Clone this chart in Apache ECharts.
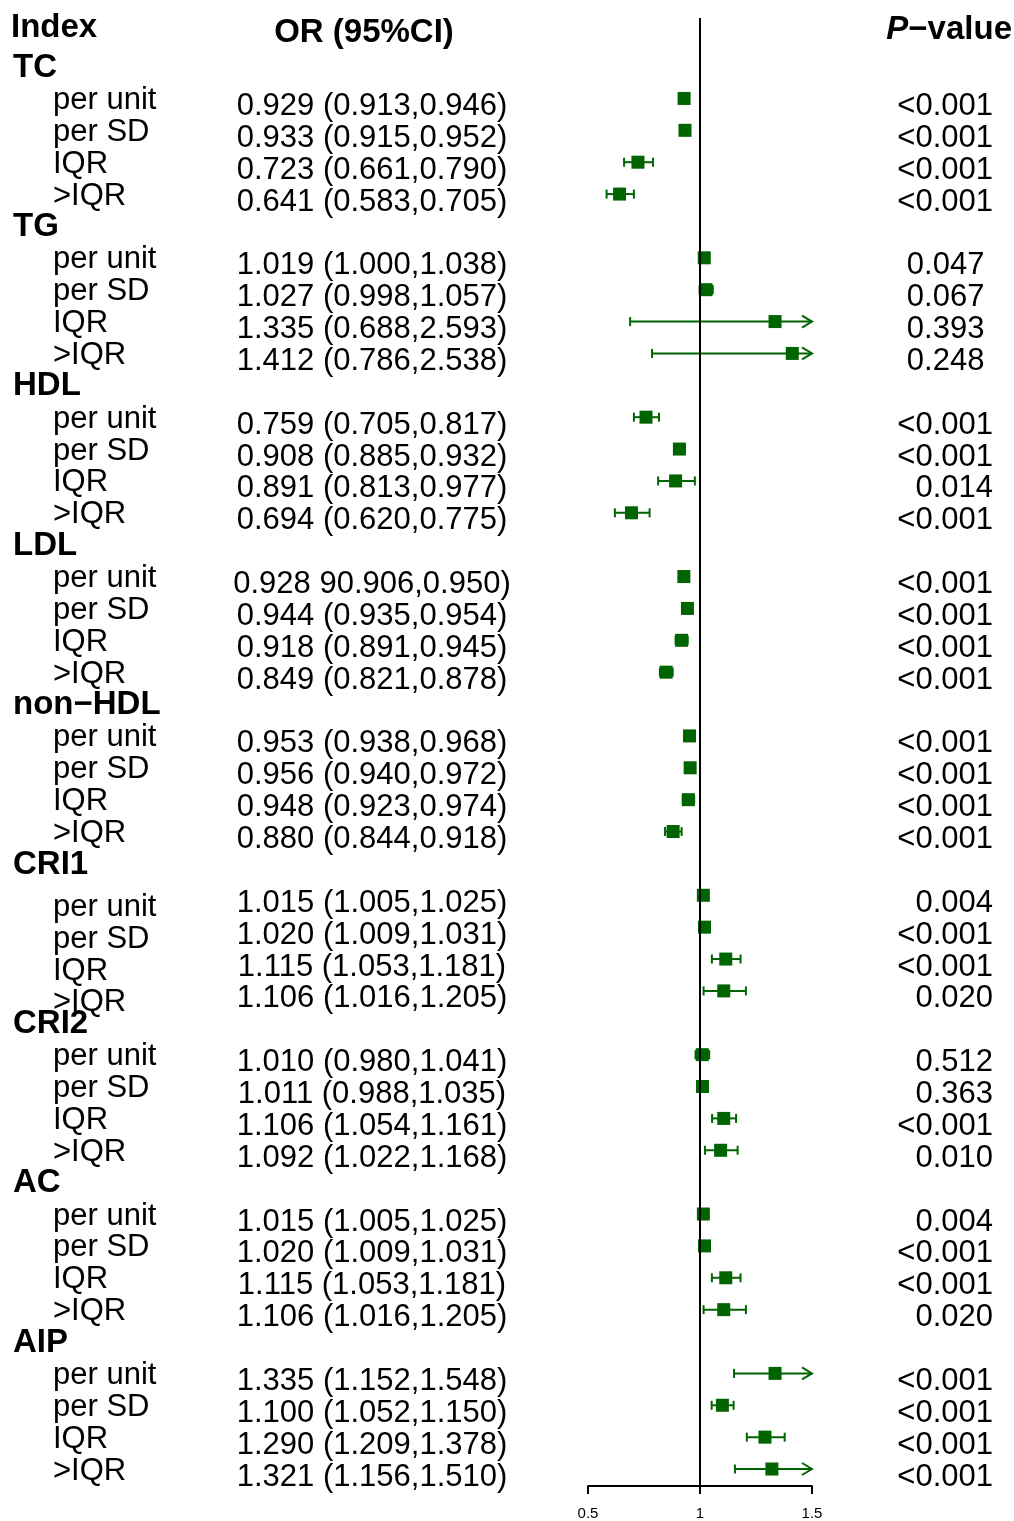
<!DOCTYPE html>
<html><head><meta charset="utf-8">
<script src="https://cdn.jsdelivr.net/npm/echarts@6/dist/echarts.min.js"></script>
<style>html,body{margin:0;padding:0;background:#fff}#c{width:1014px;height:1521px}</style>
</head><body><div id="c"></div>
<script>
// ---------------- data ----------------
const groups = ['TC', 'TG', 'HDL', 'LDL', 'non\u2212HDL', 'CRI1', 'CRI2', 'AC', 'AIP'];
const subLabels = ['per unit', 'per SD', 'IQR', '>IQR'];
const orValues = [
  [0.929, 0.933, 0.723, 0.641],
  [1.019, 1.027, 1.335, 1.412],
  [0.759, 0.908, 0.891, 0.694],
  [0.928, 0.944, 0.918, 0.849],
  [0.953, 0.956, 0.948, 0.880],
  [1.015, 1.020, 1.115, 1.106],
  [1.010, 1.011, 1.106, 1.092],
  [1.015, 1.020, 1.115, 1.106],
  [1.335, 1.100, 1.290, 1.321]
];
const loValues = [
  [0.913, 0.915, 0.661, 0.583],
  [1.000, 0.998, 0.688, 0.786],
  [0.705, 0.885, 0.813, 0.620],
  [0.906, 0.935, 0.891, 0.821],
  [0.938, 0.940, 0.923, 0.844],
  [1.005, 1.009, 1.053, 1.016],
  [0.980, 0.988, 1.054, 1.022],
  [1.005, 1.009, 1.053, 1.016],
  [1.152, 1.052, 1.209, 1.156]
];
const hiValues = [
  [0.946, 0.952, 0.790, 0.705],
  [1.038, 1.057, 2.593, 2.538],
  [0.817, 0.932, 0.977, 0.775],
  [0.950, 0.954, 0.945, 0.878],
  [0.968, 0.972, 0.974, 0.918],
  [1.025, 1.031, 1.181, 1.205],
  [1.041, 1.035, 1.161, 1.168],
  [1.025, 1.031, 1.181, 1.205],
  [1.548, 1.150, 1.378, 1.510]
];
const orTexts = [
  ['0.929 (0.913,0.946)', '0.933 (0.915,0.952)', '0.723 (0.661,0.790)', '0.641 (0.583,0.705)'],
  ['1.019 (1.000,1.038)', '1.027 (0.998,1.057)', '1.335 (0.688,2.593)', '1.412 (0.786,2.538)'],
  ['0.759 (0.705,0.817)', '0.908 (0.885,0.932)', '0.891 (0.813,0.977)', '0.694 (0.620,0.775)'],
  ['0.928 90.906,0.950)', '0.944 (0.935,0.954)', '0.918 (0.891,0.945)', '0.849 (0.821,0.878)'],
  ['0.953 (0.938,0.968)', '0.956 (0.940,0.972)', '0.948 (0.923,0.974)', '0.880 (0.844,0.918)'],
  ['1.015 (1.005,1.025)', '1.020 (1.009,1.031)', '1.115 (1.053,1.181)', '1.106 (1.016,1.205)'],
  ['1.010 (0.980,1.041)', '1.011 (0.988,1.035)', '1.106 (1.054,1.161)', '1.092 (1.022,1.168)'],
  ['1.015 (1.005,1.025)', '1.020 (1.009,1.031)', '1.115 (1.053,1.181)', '1.106 (1.016,1.205)'],
  ['1.335 (1.152,1.548)', '1.100 (1.052,1.150)', '1.290 (1.209,1.378)', '1.321 (1.156,1.510)']
];
const pTexts = [
  ['<0.001', '<0.001', '<0.001', '<0.001'],
  ['0.047 ', '0.067 ', '0.393 ', '0.248 '],
  ['<0.001', '<0.001', '0.014', '<0.001'],
  ['<0.001', '<0.001', '<0.001', '<0.001'],
  ['<0.001', '<0.001', '<0.001', '<0.001'],
  ['0.004', '<0.001', '<0.001', '0.020'],
  ['0.512', '0.363', '<0.001', '0.010'],
  ['0.004', '<0.001', '<0.001', '0.020'],
  ['<0.001', '<0.001', '<0.001', '<0.001']
];
const xTicks = [0.5, 1, 1.5];

// ---------------- layout / style ----------------
const XMIN = 0.5, XMAX = 1.5;
const GREEN = '#006400';
const FONT = '"Liberation Sans", Arial, Helvetica, sans-serif';
const FS = 31, FSB = 33;
const ROWS_PER_GROUP = subLabels.length + 1;

// rows built from arrays
const forestData = [];
const labelRows = [];   // [row, kind, g, i]
const orRows = [];
const pRows = [];
groups.forEach((g, gi) => {
  const base = gi * ROWS_PER_GROUP;
  labelRows.push([base, 0, gi, -1]);
  subLabels.forEach((s, si) => {
    const row = base + 1 + si;
    forestData.push([orValues[gi][si], loValues[gi][si], hiValues[gi][si], row]);
    labelRows.push([row, 1, gi, si]);
    orRows.push([row, gi, si]);
    pRows.push([row, gi, si]);
  });
});

const chart = echarts.init(document.getElementById('c'), null, {renderer: 'canvas'});

function textEl(x, y, text, align, bold) {
  return {
    type: 'text', x: x, y: y,
    style: {
      text: text, fill: '#000', align: align, verticalAlign: 'middle',
      fontFamily: FONT, fontSize: bold ? FSB : FS, fontWeight: bold ? 'bold' : 'normal'
    }
  };
}

const option = {
  animation: false,
  backgroundColor: '#fff',
  grid: [{left: 588, right: 202, top: 18, bottom: 34, containLabel: false}],
  xAxis: [{
    type: 'value', min: XMIN, max: XMAX, interval: 0.5,
    axisLine: {show: true, onZero: false, lineStyle: {color: '#000', width: 2}},
    axisTick: {show: true, length: 8, lineStyle: {color: '#000', width: 2}},
    axisLabel: {color: '#000', fontSize: 15, fontFamily: FONT, margin: 20,
      formatter: v => xTicks.includes(+v.toFixed(3)) ? String(+v.toFixed(3)) : ''},
    splitLine: {show: false}
  }],
  yAxis: [{
    type: 'value', min: -1.524, max: 44.533, inverse: true, show: false,
    splitLine: {show: false}
  }],
  graphic: [
    {type: 'text', left: 11, top: 11,
      style: {text: 'Index', fill: '#000', fontFamily: FONT, fontSize: FSB, fontWeight: 'bold'}},
    {type: 'text', x: 364, y: 33,
      style: {text: 'OR (95%CI)', fill: '#000', fontFamily: FONT, fontSize: FSB, fontWeight: 'bold', align: 'center', verticalAlign: 'middle'}},
    {type: 'text', x: 1012, y: 30,
      style: {text: '{i|P}{b|\u2212value}', align: 'right', verticalAlign: 'middle',
        rich: {
          i: {fill: '#000', fontFamily: FONT, fontSize: FSB, fontWeight: 'bold', fontStyle: 'italic'},
          b: {fill: '#000', fontFamily: FONT, fontSize: FSB, fontWeight: 'bold'}
        }}}
  ],
  series: [
    {
      type: 'custom',
      coordinateSystem: 'cartesian2d',
      data: forestData,
      clip: false,
      silent: true,
      markLine: {
        silent: true, symbol: ['none', 'none'], label: {show: false},
        lineStyle: {color: '#000', width: 2, type: 'solid'},
        data: [{xAxis: 1}]
      },
      renderItem: function (params, api) {
        const v = api.value(0), lo = api.value(1), hi = api.value(2), row = api.value(3);
        const c = api.coord([v, row]);
        const y = c[1];
        const pl = api.coord([Math.max(lo, XMIN), row]);
        const ph = api.coord([Math.min(hi, XMAX), row]);
        const st = {stroke: GREEN, lineWidth: 2, fill: null};
        const ch = [];
        ch.push({type: 'line', shape: {x1: pl[0], y1: y, x2: ph[0], y2: y}, style: st});
        if (lo >= XMIN) ch.push({type: 'line', shape: {x1: pl[0], y1: y - 4.5, x2: pl[0], y2: y + 4.5}, style: st});
        else ch.push({type: 'polyline', shape: {points: [[pl[0] + 10, y - 6], [pl[0], y], [pl[0] + 10, y + 6]]}, style: st});
        if (hi <= XMAX) ch.push({type: 'line', shape: {x1: ph[0], y1: y - 4.5, x2: ph[0], y2: y + 4.5}, style: st});
        else ch.push({type: 'polyline', shape: {points: [[ph[0] - 10, y - 6], [ph[0], y], [ph[0] - 10, y + 6]]}, style: st});
        ch.push({type: 'rect', shape: {x: c[0] - 6.5, y: y - 6.5, width: 13, height: 13}, style: {fill: GREEN}});
        return {type: 'group', children: ch};
      },
      z: 3
    },
    {
      type: 'custom', coordinateSystem: 'cartesian2d', data: labelRows, clip: false, silent: true,
      renderItem: function (params, api) {
        const row = api.value(0), kind = api.value(1), gi = api.value(2), si = api.value(3);
        const y = api.coord([XMIN, row])[1];
        if (kind === 0) return textEl(13, y + 1, groups[gi], 'left', true);
        const shift = groups[gi] === 'CRI1' ? 10 : 0;
        return textEl(53, y + 2 + shift, subLabels[si], 'left', false);
      }
    },
    {
      type: 'custom', coordinateSystem: 'cartesian2d', data: orRows, clip: false, silent: true,
      renderItem: function (params, api) {
        const row = api.value(0), gi = api.value(1), si = api.value(2);
        const y = api.coord([XMIN, row])[1];
        return textEl(372, y + 8, orTexts[gi][si], 'center', false);
      }
    },
    {
      type: 'custom', coordinateSystem: 'cartesian2d', data: pRows, clip: false, silent: true,
      renderItem: function (params, api) {
        const row = api.value(0), gi = api.value(1), si = api.value(2);
        const y = api.coord([XMIN, row])[1];
        return textEl(993, y + 8, pTexts[gi][si], 'right', false);
      }
    }
  ]
};
chart.setOption(option);
</script>
</body></html>
